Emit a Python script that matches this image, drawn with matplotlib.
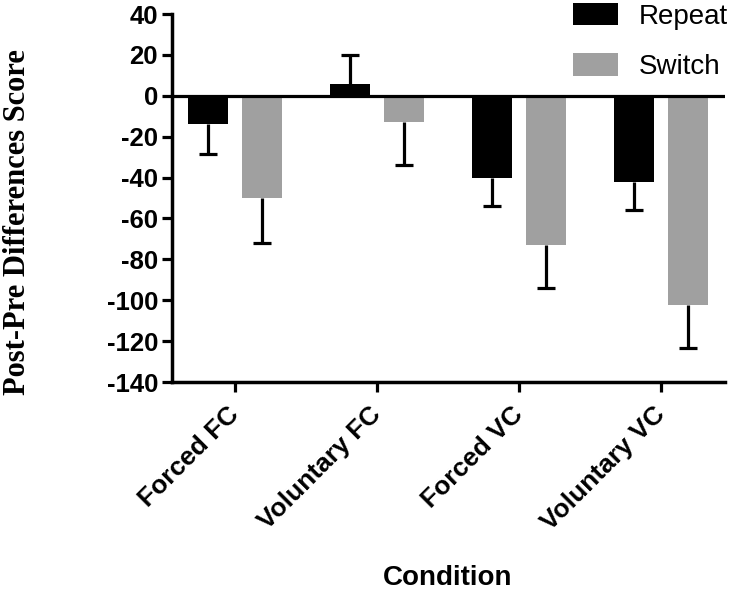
import matplotlib
matplotlib.use('Agg')
from matplotlib import pyplot as plt
import numpy as np

# data
conditions = ['Forced FC', 'Voluntary FC', 'Forced VC', 'Voluntary VC']
repeat = [-14, 6, -40, -42]
repeat_err = [14.5, 14, 14, 14]
switch = [-50, -13, -73, -102.5]
switch_err = [22, 21, 21, 21]
yticks = [40, 20, 0, -20, -40, -60, -80, -100, -120, -140]

plt.rcParams['font.family'] = ['Liberation Sans', 'DejaVu Sans']

fig = plt.figure(figsize=(7.34, 5.92), dpi=100)
ax = fig.add_axes([172/734, (592-382)/592, (725-172)/734, (382-14)/592])

x = np.arange(len(conditions))
w = 0.283
off = 0.19
lw = 2.3

def err_tips(vals, errs):
    return [v - e if v < 0 else v + e for v, e in zip(vals, errs)]

ax.bar(x - off, repeat, w, color='black', label='Repeat', zorder=2)
ax.bar(x + off, switch, w, color='#a0a0a0', label='Switch', zorder=2)

# one-sided error bars: stem from bar end to tip, cap only at the tip
for xs, vals, errs in [(x - off, repeat, repeat_err), (x + off, switch, switch_err)]:
    tips = err_tips(vals, errs)
    ax.vlines(xs, vals, tips, color='black', linewidth=lw, zorder=1)
    ax.plot(xs, tips, ls='none', marker='_', markersize=13, mew=lw,
            color='black', zorder=1)

ax.axhline(0, color='black', linewidth=lw, zorder=3)

ax.set_xlim(-0.444, 3.45)
ax.set_ylim(-140, 40)
ax.set_yticks(yticks)
ax.set_yticklabels([str(t) for t in yticks], fontsize=18.5, fontweight='bold')
ax.set_xticks(x)
ax.set_xticklabels(conditions, fontsize=19, fontweight='bold', rotation=45,
                   ha='right', va='center', rotation_mode='anchor')
ax.tick_params(axis='both', width=lw, length=7, direction='out')
ax.tick_params(axis='y', pad=3)
ax.tick_params(axis='x', pad=14)

for s in ['top', 'right']:
    ax.spines[s].set_visible(False)
for s in ['left', 'bottom']:
    ax.spines[s].set_linewidth(2.5)

fig.text(448/734, (592-578)/592, 'Condition', ha='center', va='center',
         fontsize=20, fontweight='bold')
fig.text(18/734, (592-222)/592, 'Post-Pre Differences Score', rotation=90,
         ha='center', va='center', fontsize=22, fontweight='bold',
         family='Liberation Serif')

leg = ax.legend(loc='upper left', bbox_to_anchor=(570/734, 1.0),
                bbox_transform=fig.transFigure, frameon=False,
                fontsize=20, handlelength=1.62, handleheight=0.86,
                labelspacing=0.85, handletextpad=0.75, borderaxespad=0,
                borderpad=0.1)

plt.savefig('out.png', dpi=100)
